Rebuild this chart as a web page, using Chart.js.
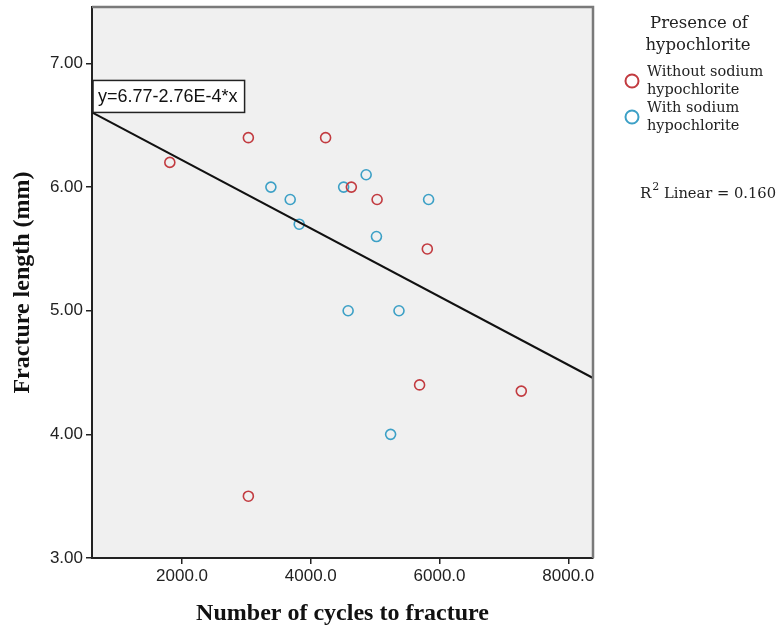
<!DOCTYPE html>
<html>
<head>
<meta charset="utf-8">
<script src="https://cdn.jsdelivr.net/npm/chart.js@4.4.1/dist/chart.umd.min.js"></script>
<style>
  html, body { margin: 0; padding: 0; background: #ffffff; }
  #wrap { width: 780px; height: 630px; position: relative; }
</style>
</head>
<body>
<div id="wrap"><canvas id="c" width="780" height="630"></canvas></div>
<script>
// ---- Data ----
const withoutX = [1810, 3030, 4230, 4630, 5030, 5810, 5690, 7270, 3030];
const withoutY = [6.20, 6.40, 6.40, 6.00, 5.90, 5.50, 4.40, 4.35, 3.50];
const withX = [3380, 3680, 3820, 4510, 4860, 5830, 5020, 4580, 5370, 5240];
const withY = [6.00, 5.90, 5.70, 6.00, 6.10, 5.90, 5.60, 5.00, 5.00, 4.00];
const seriesNames = ['Without sodium hypochlorite', 'With sodium hypochlorite'];
const xTicks = [2000, 4000, 6000, 8000];
const yTicks = [3, 4, 5, 6, 7];
const fitIntercept = 6.77;
const fitSlope = -2.76e-4;
const fitLabel = 'y=6.77-2.76E-4*x';
const r2Text = '0.160';
const xMin = 601, xMax = 8384;
const yMin = 3.0, yMax = 7.457;

const RED = '#c23b40';
const BLUE = '#3ca0c6';

const toPts = (xs, ys) => xs.map((x, i) => ({ x: x, y: ys[i] }));
const fitPts = [xMin, xMax].map(x => ({ x: x, y: fitIntercept + fitSlope * x }));

const bgPlugin = {
  id: 'bg',
  beforeDraw(chart) {
    const { ctx, chartArea: a } = chart;
    ctx.save();
    ctx.fillStyle = '#f0f0f0';
    ctx.fillRect(a.left, a.top, a.right - a.left, a.bottom - a.top);
    ctx.restore();
  },
  afterDatasetsDraw(chart) {
    const { ctx, chartArea: a } = chart;
    ctx.save();
    ctx.strokeStyle = '#7a7a7a';
    ctx.lineWidth = 2.5;
    ctx.beginPath();
    ctx.moveTo(a.left, a.top);
    ctx.lineTo(a.right, a.top);
    ctx.lineTo(a.right, a.bottom);
    ctx.stroke();
    // equation label anchored at the fit line's start
    const xs = chart.scales.x, ys = chart.scales.y;
    const px = xs.getPixelForValue(fitPts[0].x);
    const py = ys.getPixelForValue(fitPts[0].y);
    ctx.font = '18px "Liberation Sans", Arial, sans-serif';
    const tw = ctx.measureText(fitLabel).width;
    const bx = px + 1, bh = 32, bw = tw + 12;
    const by = py - bh;
    ctx.fillStyle = '#ffffff';
    ctx.fillRect(bx, by, bw, bh);
    ctx.strokeStyle = '#222';
    ctx.lineWidth = 1.5;
    ctx.strokeRect(bx, by, bw, bh);
    ctx.fillStyle = '#111';
    ctx.textBaseline = 'middle';
    ctx.textAlign = 'left';
    ctx.fillText(fitLabel, bx + 5, by + bh / 2 + 1);
    ctx.restore();
  },
  afterDraw(chart) {
    const { ctx } = chart;
    ctx.save();
    ctx.fillStyle = '#222';
    ctx.textBaseline = 'middle';
    ctx.font = '16.5px "DejaVu Serif", serif';
    ctx.textAlign = 'center';
    ctx.fillText('Presence of', 699, 24);
    ctx.fillText('hypochlorite', 698, 46);
    ctx.font = '14.5px "DejaVu Serif", serif';
    ctx.textAlign = 'left';
    const items = [
      { c: RED, l1: 'Without sodium', l2: 'hypochlorite', y: 72 },
      { c: BLUE, l1: 'With sodium', l2: 'hypochlorite', y: 108 }
    ];
    items.forEach(it => {
      ctx.strokeStyle = it.c;
      ctx.lineWidth = 2;
      ctx.beginPath();
      ctx.arc(632, it.y + 9, 6.5, 0, Math.PI * 2);
      ctx.stroke();
      ctx.fillStyle = '#222';
      ctx.fillText(it.l1, 647, it.y);
      ctx.fillText(it.l2, 647, it.y + 18);
    });
    ctx.font = '15px "DejaVu Serif", serif';
    ctx.fillText('R', 640, 194);
    const w = ctx.measureText('R').width;
    ctx.font = '11px "DejaVu Serif", serif';
    ctx.fillText('2', 640 + w + 1, 187);
    const w2 = ctx.measureText('2').width;
    ctx.font = '14.7px "DejaVu Serif", serif';
    ctx.fillText(' Linear = ' + r2Text, 640 + w + w2 + 1, 194);
    ctx.restore();
  }
};

new Chart(document.getElementById('c'), {
  data: {
    datasets: [
      {
        type: 'scatter',
        label: seriesNames[0],
        data: toPts(withoutX, withoutY),
        pointStyle: 'circle',
        pointRadius: 5,
        pointBorderWidth: 1.6,
        borderColor: RED,
        backgroundColor: 'rgba(0,0,0,0)',
        order: 2
      },
      {
        type: 'scatter',
        label: seriesNames[1],
        data: toPts(withX, withY),
        pointStyle: 'circle',
        pointRadius: 5,
        pointBorderWidth: 1.6,
        borderColor: BLUE,
        backgroundColor: 'rgba(0,0,0,0)',
        order: 2
      },
      {
        type: 'line',
        label: 'Fit',
        data: fitPts,
        borderColor: '#111',
        borderWidth: 2,
        pointRadius: 0,
        fill: false,
        order: 1
      }
    ]
  },
  options: {
    responsive: false,
    animation: false,
    devicePixelRatio: 1,
    layout: { padding: { top: 7, right: 187, left: 0, bottom: 0 } },
    plugins: { legend: { display: false }, tooltip: { enabled: false } },
    scales: {
      x: {
        type: 'linear',
        min: xMin,
        max: xMax,
        afterBuildTicks: s => { s.ticks = xTicks.map(v => ({ value: v })); },
        afterFit: s => { s.height = 72; s.paddingLeft = 0; s.paddingRight = 0; },
        border: { display: true, color: '#222', width: 2 },
        grid: { drawOnChartArea: false, drawTicks: true, tickLength: 6, color: '#222', lineWidth: 1.5 },
        ticks: {
          color: '#222',
          font: { family: '"Liberation Sans", Arial, sans-serif', size: 17 },
          padding: 2,
          maxRotation: 0,
          callback: v => Number(v).toFixed(1)
        },
        title: {
          display: true,
          text: 'Number of cycles to fracture',
          color: '#111',
          font: { family: '"Liberation Serif", "Times New Roman", serif', size: 24, weight: 'bold' },
          padding: { top: 0, bottom: 2 }
        }
      },
      y: {
        type: 'linear',
        min: yMin,
        max: yMax,
        afterBuildTicks: s => { s.ticks = yTicks.map(v => ({ value: v })); },
        afterFit: s => { s.width = 92; s.paddingTop = 0; s.paddingBottom = 0; },
        border: { display: true, color: '#222', width: 2 },
        grid: { drawOnChartArea: false, drawTicks: true, tickLength: 6, color: '#222', lineWidth: 1.5 },
        ticks: {
          color: '#222',
          font: { family: '"Liberation Sans", Arial, sans-serif', size: 17 },
          padding: 3,
          callback: v => Number(v).toFixed(2)
        },
        title: {
          display: true,
          text: 'Fracture length (mm)',
          color: '#111',
          font: { family: '"Liberation Serif", "Times New Roman", serif', size: 24, weight: 'bold' },
          padding: { top: 8, bottom: 0 }
        }
      }
    }
  },
  plugins: [bgPlugin]
});
</script>
</body>
</html>
